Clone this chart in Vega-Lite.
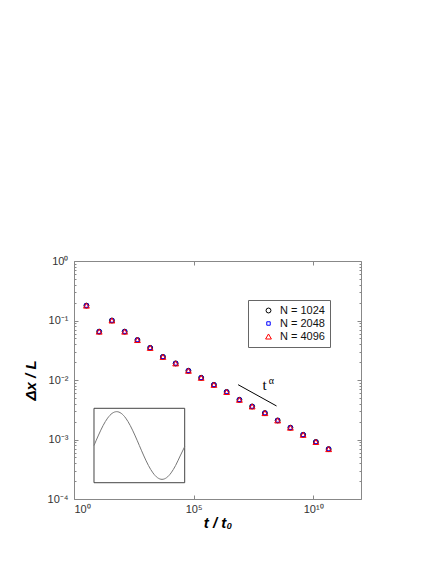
{
  "$schema": "https://vega.github.io/schema/vega-lite/v6.json",
  "width": 287,
  "height": 238,
  "autosize": "none",
  "padding": {"left": 74, "top": 261, "right": 75, "bottom": 65},
  "background": "white",
  "config": {
    "view": {"stroke": "#888", "strokeWidth": 1},
    "font": "Liberation Sans",
    "axis": {
      "domain": false,
      "grid": false,
      "tickColor": "#888",
      "tickWidth": 1,
      "labelFont": "Liberation Sans",
      "labelFontSize": 11,
      "labelColor": "#333",
      "titleFont": "Liberation Sans",
      "titleFontSize": 15,
      "titleFontWeight": "bold",
      "titleFontStyle": "italic",
      "titleColor": "#000"
    },
    "legend": {
      "orient": "none",
      "legendX": 174,
      "legendY": 39,
      "strokeColor": "#666",
      "padding": 5,
      "symbolOffset": 10,
      "labelFont": "Liberation Sans",
      "labelFontSize": 11,
      "labelColor": "#111",
      "rowPadding": 1,
      "symbolStrokeWidth": 1,
      "labelOffset": 6
    }
  },
  "datasets": {
    "pts": [
      {"t": 3.31, "dx": 0.178, "N": "N = 1024"},
      {"t": 11.3, "dx": 0.065, "N": "N = 1024"},
      {"t": 38.5, "dx": 0.1, "N": "N = 1024"},
      {"t": 131.5, "dx": 0.065, "N": "N = 1024"},
      {"t": 449, "dx": 0.047, "N": "N = 1024"},
      {"t": 1531, "dx": 0.0347, "N": "N = 1024"},
      {"t": 5224, "dx": 0.0245, "N": "N = 1024"},
      {"t": 17820, "dx": 0.019, "N": "N = 1024"},
      {"t": 60810, "dx": 0.0143, "N": "N = 1024"},
      {"t": 207500, "dx": 0.0109, "N": "N = 1024"},
      {"t": 707900, "dx": 0.0083, "N": "N = 1024"},
      {"t": 2415000, "dx": 0.0063, "N": "N = 1024"},
      {"t": 8241000, "dx": 0.00465, "N": "N = 1024"},
      {"t": 28120000, "dx": 0.00359, "N": "N = 1024"},
      {"t": 95940000, "dx": 0.00278, "N": "N = 1024"},
      {"t": 327300000, "dx": 0.00209, "N": "N = 1024"},
      {"t": 1117000000, "dx": 0.00158, "N": "N = 1024"},
      {"t": 3811000000, "dx": 0.0012, "N": "N = 1024"},
      {"t": 13000000000, "dx": 0.00091, "N": "N = 1024"},
      {"t": 44360000000, "dx": 0.00069, "N": "N = 1024"},
      {"t": 3.31, "dx": 0.178, "N": "N = 2048"},
      {"t": 11.3, "dx": 0.065, "N": "N = 2048"},
      {"t": 38.5, "dx": 0.1, "N": "N = 2048"},
      {"t": 131.5, "dx": 0.065, "N": "N = 2048"},
      {"t": 449, "dx": 0.047, "N": "N = 2048"},
      {"t": 1531, "dx": 0.0347, "N": "N = 2048"},
      {"t": 5224, "dx": 0.0245, "N": "N = 2048"},
      {"t": 17820, "dx": 0.019, "N": "N = 2048"},
      {"t": 60810, "dx": 0.0143, "N": "N = 2048"},
      {"t": 207500, "dx": 0.0109, "N": "N = 2048"},
      {"t": 707900, "dx": 0.0083, "N": "N = 2048"},
      {"t": 2415000, "dx": 0.0063, "N": "N = 2048"},
      {"t": 8241000, "dx": 0.00465, "N": "N = 2048"},
      {"t": 28120000, "dx": 0.00359, "N": "N = 2048"},
      {"t": 95940000, "dx": 0.00278, "N": "N = 2048"},
      {"t": 327300000, "dx": 0.00209, "N": "N = 2048"},
      {"t": 1117000000, "dx": 0.00158, "N": "N = 2048"},
      {"t": 3811000000, "dx": 0.0012, "N": "N = 2048"},
      {"t": 13000000000, "dx": 0.00091, "N": "N = 2048"},
      {"t": 44360000000, "dx": 0.00069, "N": "N = 2048"},
      {"t": 3.31, "dx": 0.178, "N": "N = 4096"},
      {"t": 11.3, "dx": 0.065, "N": "N = 4096"},
      {"t": 38.5, "dx": 0.1, "N": "N = 4096"},
      {"t": 131.5, "dx": 0.065, "N": "N = 4096"},
      {"t": 449, "dx": 0.047, "N": "N = 4096"},
      {"t": 1531, "dx": 0.0347, "N": "N = 4096"},
      {"t": 5224, "dx": 0.0245, "N": "N = 4096"},
      {"t": 17820, "dx": 0.019, "N": "N = 4096"},
      {"t": 60810, "dx": 0.0143, "N": "N = 4096"},
      {"t": 207500, "dx": 0.0109, "N": "N = 4096"},
      {"t": 707900, "dx": 0.0083, "N": "N = 4096"},
      {"t": 2415000, "dx": 0.0063, "N": "N = 4096"},
      {"t": 8241000, "dx": 0.00465, "N": "N = 4096"},
      {"t": 28120000, "dx": 0.00359, "N": "N = 4096"},
      {"t": 95940000, "dx": 0.00278, "N": "N = 4096"},
      {"t": 327300000, "dx": 0.00209, "N": "N = 4096"},
      {"t": 1117000000, "dx": 0.00158, "N": "N = 4096"},
      {"t": 3811000000, "dx": 0.0012, "N": "N = 4096"},
      {"t": 13000000000, "dx": 0.00091, "N": "N = 4096"},
      {"t": 44360000000, "dx": 0.00069, "N": "N = 4096"}
    ],
    "slope": [
      {"t": 7280000, "dx": 0.00834},
      {"t": 294000000, "dx": 0.00366}
    ],
    "slopebase": [
      {"t": 92500000, "dx": 0.00679, "txt": "t"}
    ],
    "slopesup": [
      {"t": 178000000, "dx": 0.00857, "txt": "α"}
    ],
    "insetbox": [
      {"u0": 0, "u1": 1, "v0": -1, "v1": 1}
    ],
    "sine": [
      {"u": 0.0, "v": 0.0},
      {"u": 0.05, "v": 0.281},
      {"u": 0.1, "v": 0.535},
      {"u": 0.15, "v": 0.736},
      {"u": 0.2, "v": 0.865},
      {"u": 0.25, "v": 0.91},
      {"u": 0.3, "v": 0.865},
      {"u": 0.35, "v": 0.736},
      {"u": 0.4, "v": 0.535},
      {"u": 0.45, "v": 0.281},
      {"u": 0.5, "v": 0.0},
      {"u": 0.55, "v": -0.281},
      {"u": 0.6, "v": -0.535},
      {"u": 0.65, "v": -0.736},
      {"u": 0.7, "v": -0.865},
      {"u": 0.75, "v": -0.91},
      {"u": 0.8, "v": -0.865},
      {"u": 0.85, "v": -0.736},
      {"u": 0.9, "v": -0.535},
      {"u": 0.95, "v": -0.281},
      {"u": 1.0, "v": -0.03}
    ]
  },
  "layer": [
    {
      "layer": [
        {
          "data": {"name": "pts"},
          "mark": {"type": "point", "filled": false, "strokeWidth": 1, "opacity": 1},
          "encoding": {
            "x": {
              "field": "t", "type": "quantitative",
              "scale": {"type": "log", "domain": [1, 1000000000000], "nice": false},
              "axis": {
                "orient": "bottom",
                "values": [1, 100000, 10000000000],
                "labelExpr": "datum.value == 1 ? '10⁰' : datum.value == 100000 ? '10⁵' : '10¹⁰'",
                "tickSize": -4,
                "labelPadding": 8,
                "title": "t / t₀",
                "titlePadding": 1
              }
            },
            "y": {
              "field": "dx", "type": "quantitative",
              "scale": {"type": "log", "domain": [0.0001, 1], "nice": false},
              "axis": {
                "orient": "left",
                "values": [0.0001, 0.0002, 0.0003, 0.0004, 0.0005, 0.0006, 0.0007, 0.0008, 0.0009, 0.001, 0.002, 0.003, 0.004, 0.005, 0.006, 0.007, 0.008, 0.009, 0.01, 0.02, 0.03, 0.04, 0.05, 0.06, 0.07, 0.08, 0.09, 0.1, 0.2, 0.3, 0.4, 0.5, 0.6, 0.7, 0.8, 0.9, 1],
                "labelExpr": "datum.value == 1 ? '10⁰' : datum.value == 0.1 ? '10⁻¹' : datum.value == 0.01 ? '10⁻²' : datum.value == 0.001 ? '10⁻³' : datum.value == 0.0001 ? '10⁻⁴' : ''",
                "tickSize": {"condition": {"test": "indexof([1, 0.1, 0.01, 0.001, 0.0001], datum.value) >= 0", "value": -4}, "value": -2},
                "labelPadding": 10,
                "title": "Δx / L",
                "titlePadding": 9
              }
            },
            "shape": {
              "field": "N", "type": "nominal",
              "scale": {"domain": ["N = 1024", "N = 2048", "N = 4096"], "range": ["circle", "square", "triangle-up"]},
              "legend": {"title": null}
            },
            "color": {
              "field": "N", "type": "nominal",
              "scale": {"domain": ["N = 1024", "N = 2048", "N = 4096"], "range": ["#000000", "#0000ff", "#ff0000"]},
              "legend": {"title": null}
            },
            "size": {
              "field": "N", "type": "nominal",
              "scale": {"type": "ordinal", "domain": ["N = 1024", "N = 2048", "N = 4096"], "range": [24, 12, 34]},
              "legend": {"title": null}
            }
          }
        },
        {
          "data": {"name": "pts"},
          "mark": {"type": "point", "opacity": 0},
          "encoding": {
            "x": {
              "field": "t", "type": "quantitative",
              "scale": {"type": "log", "domain": [1, 1000000000000], "nice": false},
              "axis": {"orient": "top", "values": [1, 100000, 10000000000], "labels": false, "tickSize": -4, "title": null}
            },
            "y": {
              "field": "dx", "type": "quantitative",
              "scale": {"type": "log", "domain": [0.0001, 1], "nice": false},
              "axis": {
                "orient": "right",
                "values": [0.0001, 0.0002, 0.0003, 0.0004, 0.0005, 0.0006, 0.0007, 0.0008, 0.0009, 0.001, 0.002, 0.003, 0.004, 0.005, 0.006, 0.007, 0.008, 0.009, 0.01, 0.02, 0.03, 0.04, 0.05, 0.06, 0.07, 0.08, 0.09, 0.1, 0.2, 0.3, 0.4, 0.5, 0.6, 0.7, 0.8, 0.9, 1],
                "labels": false,
                "tickSize": {"condition": {"test": "indexof([1, 0.1, 0.01, 0.001, 0.0001], datum.value) >= 0", "value": -4}, "value": -2},
                "title": null
              }
            }
          }
        },
        {
          "data": {"name": "slope"},
          "mark": {"type": "line", "color": "#000", "strokeWidth": 1},
          "encoding": {
            "x": {"field": "t", "type": "quantitative", "axis": null},
            "y": {"field": "dx", "type": "quantitative", "axis": null}
          }
        },
        {
          "data": {"name": "slopebase"},
          "mark": {"type": "text", "font": "Liberation Serif", "fontSize": 15, "baseline": "alphabetic", "align": "center", "color": "#000"},
          "encoding": {
            "x": {"field": "t", "type": "quantitative", "axis": null},
            "y": {"field": "dx", "type": "quantitative", "axis": null},
            "text": {"field": "txt", "type": "nominal"}
          }
        },
        {
          "data": {"name": "slopesup"},
          "mark": {"type": "text", "font": "Liberation Serif", "fontSize": 10, "baseline": "alphabetic", "align": "center", "color": "#000"},
          "encoding": {
            "x": {"field": "t", "type": "quantitative", "axis": null},
            "y": {"field": "dx", "type": "quantitative", "axis": null},
            "text": {"field": "txt", "type": "nominal"}
          }
        }
      ]
    },
    {
      "layer": [
        {
          "data": {"name": "insetbox"},
          "mark": {"type": "rect", "fill": null, "fillOpacity": 0, "stroke": "#444", "strokeWidth": 1},
          "encoding": {
            "x": {"field": "u0", "type": "quantitative", "scale": {"domain": [-0.2205, 2.9438], "nice": false, "zero": false}, "axis": null},
            "x2": {"field": "u1"},
            "y": {"field": "v0", "type": "quantitative", "scale": {"domain": [-1.438, 4.96], "nice": false, "zero": false}, "axis": null},
            "y2": {"field": "v1"}
          }
        },
        {
          "data": {"name": "sine"},
          "mark": {"type": "line", "color": "#777", "strokeWidth": 1, "interpolate": "monotone"},
          "encoding": {
            "x": {"field": "u", "type": "quantitative", "axis": null},
            "y": {"field": "v", "type": "quantitative", "axis": null}
          }
        }
      ]
    }
  ],
  "resolve": {"scale": {"x": "independent", "y": "independent"}}
}
